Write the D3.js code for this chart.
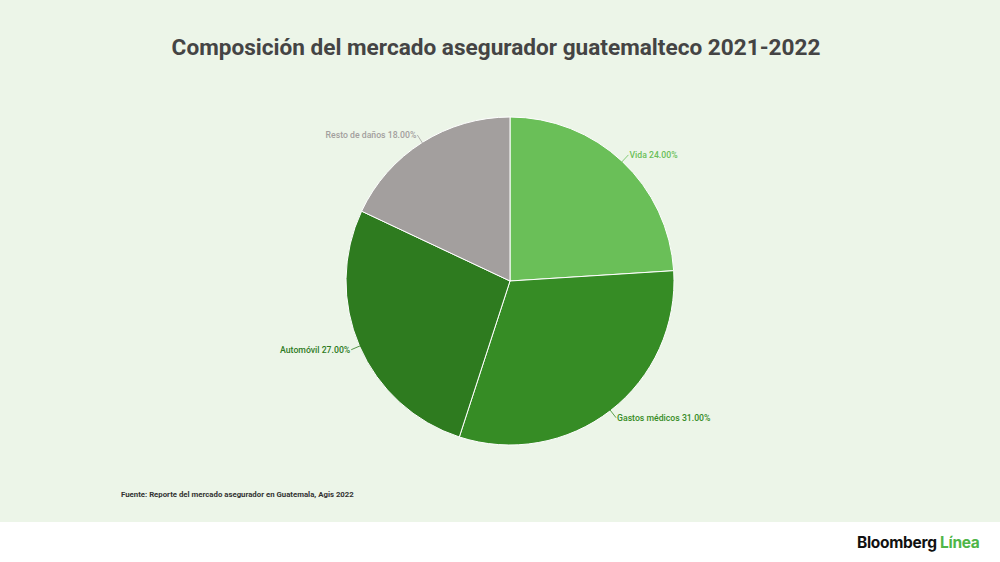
<!DOCTYPE html>
<html>
<head>
<meta charset="utf-8">
<script src="https://cdn.jsdelivr.net/npm/d3@7"></script>
<style>
  body { margin: 0; background: #fff; }
  svg { display: block; font-family: Roboto, sans-serif; }
</style>
</head>
<body>
<svg id="chart" width="1000" height="562"></svg>
<script>
/* Composición del mercado asegurador - pie */

const categorias = ["Vida", "Gastos médicos", "Automóvil", "Resto de daños"];
const valores = [24, 31, 27, 18];
const colores = ["#6abf58", "#368c25", "#2e7b1f", "#a39f9e"];

let svg = d3.select("#chart"),
    width = 1000,
    height = 562,
    radius = 164,
    cx = 510,
    cy = 281;

// Hintergrund
svg.append("rect")
    .attr("width", width)
    .attr("height", 522)
    .attr("fill", "#ecf5e8");

svg.append("text")
    .attr("x", 496)
    .attr("y", 55)
    .attr("text-anchor", "middle")
    .attr("font-size", 22.6)
    .attr("font-weight", 700)
    .attr("fill", "#444")
    .text("Composición del mercado asegurador guatemalteco 2021-2022");

let data = categorias.map(function (c, i) {
    return { name: c, value: valores[i], color: colores[i] };
});

let pie = d3.pie()
    .sort(null)
    .value(function (d) { return d.value; });

let arc = d3.arc().innerRadius(0).outerRadius(radius);
let outer = d3.arc().innerRadius(radius + 9).outerRadius(radius + 9);
let edge = d3.arc().innerRadius(radius - 2).outerRadius(radius - 2);

let g = svg.append("g")
    .attr("transform", `translate(${cx},${cy})`);

let arcs = pie(data);

g.selectAll(".slice")
    .data(arcs)
    .enter()
    .append("path")
    .attr("class", "slice")
    .attr("d", arc)
    .attr("fill", function (d) { return d.data.color; })
    .attr("stroke", "#fff")
    .attr("stroke-width", 1);

// Leader lines
g.selectAll(".leader")
    .data(arcs)
    .enter()
    .append("polyline")
    .attr("points", function (d) {
        return [edge.centroid(d), outer.centroid(d)].join(" ");
    })
    .attr("fill", "none")
    .attr("stroke", function (d) { return d.data.color; })
    .attr("stroke-width", 0.8);

g.selectAll(".label")
    .data(arcs)
    .enter()
    .append("text")
    .attr("x", function (d) {
        let p = outer.centroid(d);
        return p[0] + (p[0] > 0 ? 1 : -1);
    })
    .attr("y", function (d) { return outer.centroid(d)[1] + 3; })
    .attr("text-anchor", function (d) {
        return outer.centroid(d)[0] > 0 ? "start" : "end";
    })
    .attr("font-size", 8.7)
    .attr("font-weight", 500)
    .attr("fill", function (d) { return d.data.color; })
    .text(function (d) { return d.data.name + " " + d.data.value.toFixed(2) + "%"; });

// Fuente
svg.append("text")
    .attr("x", 121)
    .attr("y", 497)
    .attr("font-size", 7.8)
    .attr("font-weight", 700)
    .attr("fill", "#333")
    .text("Fuente: Reporte del mercado asegurador en Guatemala, Agis 2022");

// Logo
let logo = svg.append("text")
    .attr("x", 857)
    .attr("y", 548)
    .attr("font-family", "Inter, sans-serif")
    .attr("font-size", 15.5)
    .attr("font-weight", 700)
    .attr("letter-spacing", -0.3);
logo.append("tspan").attr("fill", "#111").text("Bloomberg ");
logo.append("tspan").attr("fill", "#4fb548").text("Línea");
</script>
</body>
</html>
